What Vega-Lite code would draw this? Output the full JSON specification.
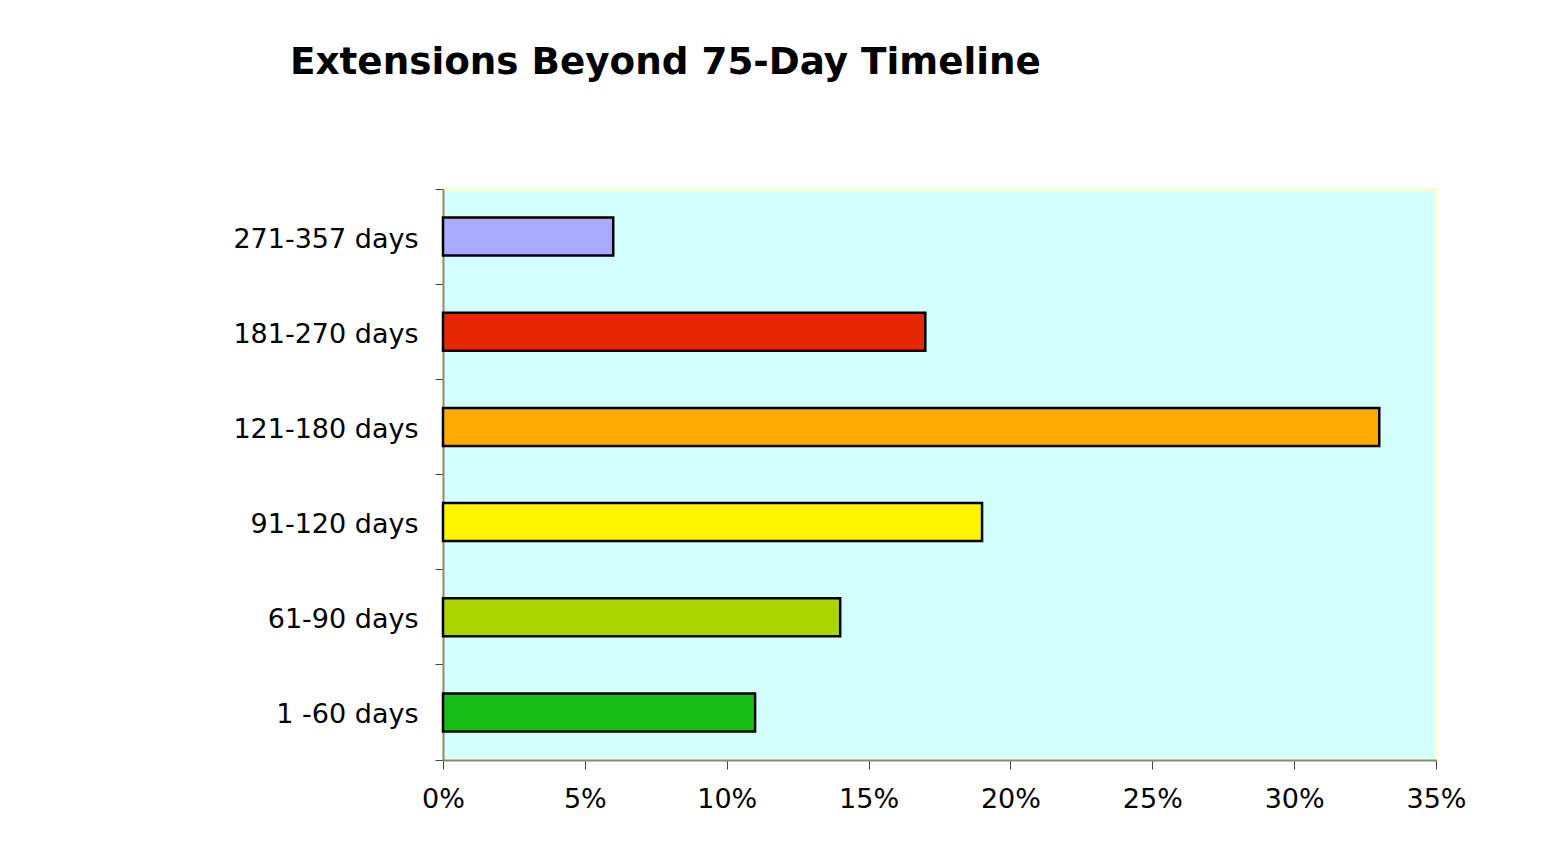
{
  "$schema": "https://vega.github.io/schema/vega-lite/v6.json",
  "autosize": {"type": "none"},
  "width": 993,
  "height": 571,
  "padding": {"left": 443, "top": 189, "right": 109, "bottom": 92},
  "background": "white",
  "title": {
    "text": "Extensions Beyond 75-Day Timeline",
    "anchor": "start",
    "frame": "group",
    "dx": -153,
    "offset": 93,
    "font": "DejaVu Sans",
    "fontSize": 37.3,
    "fontWeight": "bold",
    "color": "black"
  },
  "data": {
    "values": [
      {"range": "271-357 days", "pct": 0.06, "color": "#AAAAFF"},
      {"range": "181-270 days", "pct": 0.17, "color": "#E62600"},
      {"range": "121-180 days", "pct": 0.33, "color": "#FFAA00"},
      {"range": "91-120 days", "pct": 0.19, "color": "#FFF500"},
      {"range": "61-90 days", "pct": 0.14, "color": "#AAD500"},
      {"range": "1 -60 days", "pct": 0.11, "color": "#17BE17"}
    ]
  },
  "mark": {"type": "bar", "height": {"band": 0.4}, "stroke": "black", "strokeWidth": 2.5},
  "encoding": {
    "y": {
      "field": "range",
      "type": "nominal",
      "sort": null,
      "scale": {"paddingInner": 0, "paddingOuter": 0},
      "axis": {
        "title": null,
        "bandPosition": 1,
        "tickExtra": true,
        "tickSize": 8,
        "tickColor": "#444444",
        "labelPadding": 17,
        "labelOffset": 3,
        "labelLimit": 0,
        "labelFont": "DejaVu Sans",
        "labelFontSize": 27,
        "labelColor": "black",
        "domainColor": "#8A8A78",
        "domainWidth": 2
      }
    },
    "x": {
      "field": "pct",
      "type": "quantitative",
      "scale": {"domain": [0, 0.35], "nice": false},
      "axis": {
        "title": null,
        "format": ".0%",
        "values": [0, 0.05, 0.1, 0.15, 0.2, 0.25, 0.3, 0.35],
        "grid": false,
        "tickSize": 9,
        "tickColor": "#444444",
        "labelPadding": 17,
        "labelFont": "DejaVu Sans",
        "labelFontSize": 27,
        "labelColor": "black",
        "labelFlush": false,
        "domainColor": "#8A8A78",
        "domainWidth": 2
      }
    },
    "fill": {"field": "color", "type": "nominal", "scale": null, "legend": null}
  },
  "config": {
    "view": {"fill": "#D4FFFF", "stroke": "#FFFFCC", "strokeWidth": 3}
  }
}
